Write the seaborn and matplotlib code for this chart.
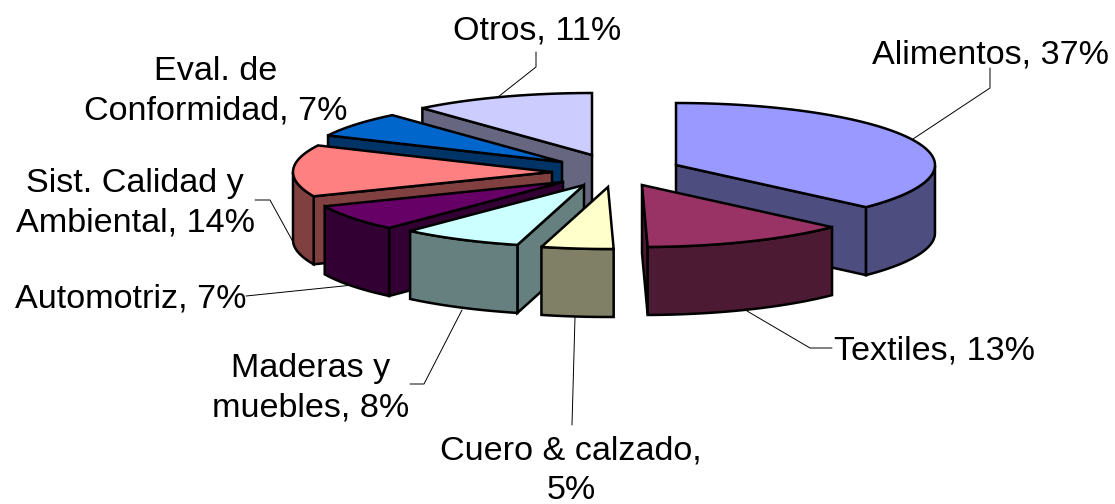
import numpy as np
import matplotlib
matplotlib.use('Agg')
import matplotlib.pyplot as plt
from matplotlib.patches import Polygon
import seaborn as sns

# slice shares, labels carry the rounded numbers
sectors = ['Alimentos', 'Textiles', 'Cuero & calzado', 'Maderas y muebles', 'Automotriz',
           'Sist. Calidad y Ambiental', 'Eval. de Conformidad', 'Otros']
shares = [37.0, 12.8, 4.5, 7.6, 6.9, 13.5, 6.6, 11.4]
labels = ['Alimentos, 37%', 'Textiles, 13%', 'Cuero & calzado,\n5%', 'Maderas y\nmuebles, 8%', 'Automotriz, 7%',
          'Sist. Calidad y\nAmbiental, 14%', 'Eval. de\nConformidad, 7%', 'Otros, 11%']
top_colors = ['#9999FF', '#993366', '#FFFFCC', '#CCFFFF', '#660066', '#FF8080', '#0066CC', '#CCCCFF']

# layout, all in pixels of the 1115x504 picture
center = (620, 170)
rx, ry, depth = 259, 62, 68
explode = [(56, -5), (22, 15), (-12, 17), (-36, 15), (-57, 12), (-68, 2), (-58, -8), (-28, -15)]
label_pos = [(990, 55), (934, 351), (571, 471), (311, 388), (131, 299), (135, 203), (216, 91), (537, 31)]
leaders = [
    [(990, 68), (990, 88), (913, 139)],
    [(832, 348), (810, 348), (747, 311)],
    [(572, 425), (575, 317)],
    [(410, 384), (424, 384), (462, 310)],
    [(246, 296), (353, 285)],
    [(255, 200), (270, 200), (292, 240)],
    [],
    [(536, 52), (536, 67), (498, 97)],
]
draw_order = [7, 6, 5, 4, 3, 2, 0, 1]

sns.set_theme(style='white')
plt.rcParams['font.family'] = ['Liberation Sans', 'DejaVu Sans']

fig, ax = plt.subplots(figsize=(11.15, 5.04), dpi=100)
fig.subplots_adjust(0, 0, 1, 1)
ax.set_xlim(0, 1115)
ax.set_ylim(504, 0)
ax.axis('off')

palette = sns.color_palette(top_colors)
edges = np.cumsum([0] + shares) / sum(shares) * 2 * np.pi
lw = 1.8


def rim(ang, ox, oy):
    # angle runs clockwise from the top of the ellipse
    return np.column_stack([ox + rx * np.sin(ang), oy - ry * np.cos(ang)])


for pts in leaders:
    if pts:
        xs, ys = zip(*pts)
        ax.plot(xs, ys, color='black', lw=0.7, zorder=1)

for i in draw_order:
    ox = center[0] + explode[i][0]
    oy = center[1] + explode[i][1]
    ang = np.linspace(edges[i], edges[i + 1], 80)
    arc = rim(ang, ox, oy)
    apex = np.array([ox, oy])
    wall_color = tuple(c * 0.5 for c in palette[i])
    down = np.array([0, depth])

    # only the cut faces turned to the viewer get drawn
    if np.sin(ang[0]) < 0:
        face = np.array([apex, arc[0], arc[0] + down, apex + down])
        ax.add_patch(Polygon(face, closed=True, fc=wall_color, ec='black', lw=lw, zorder=2))
    if np.sin(ang[-1]) > 0:
        face = np.array([apex, arc[-1], arc[-1] + down, apex + down])
        ax.add_patch(Polygon(face, closed=True, fc=wall_color, ec='black', lw=lw, zorder=2))
    front = np.cos(ang) < 0
    if front.any():
        part = arc[front]
        wall = np.vstack([part, (part + down)[::-1]])
        ax.add_patch(Polygon(wall, closed=True, fc=wall_color, ec='black', lw=lw, zorder=2))
    ax.add_patch(Polygon(np.vstack([apex, arc]), closed=True, fc=palette[i], ec='black', lw=lw, zorder=2))

for text, (x, y) in zip(labels, label_pos):
    ax.text(x, y, text, ha='center', va='center', fontsize=24.6, color='black', linespacing=1.34)

fig.savefig('out.png', dpi=100)
